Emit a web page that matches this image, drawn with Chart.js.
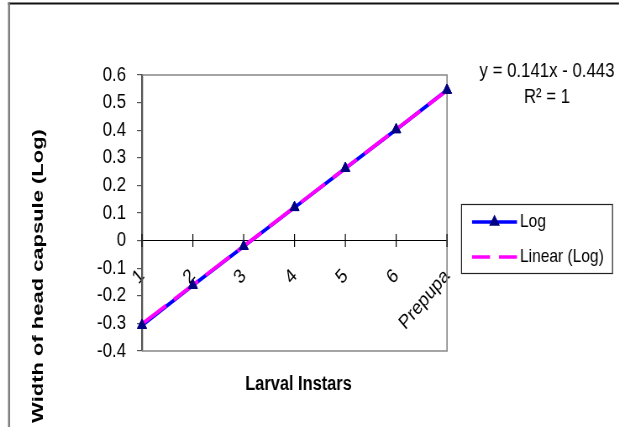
<!DOCTYPE html>
<html>
<head>
<meta charset="utf-8">
<script src="https://cdn.jsdelivr.net/npm/chart.js@4/dist/chart.umd.min.js"></script>
<style>
html, body { margin: 0; padding: 0; background: #fff; overflow: hidden; }
#wrap { position: relative; width: 619px; height: 427px; overflow: hidden; }
/* the original picture is squeezed sideways, so the canvas is drawn wider and squeezed back */
#myChart { transform: scaleX(0.84); transform-origin: 0 0; }
</style>
</head>
<body>
<div id="wrap"><canvas id="myChart" width="737" height="427"></canvas></div>
<script>
const instars = ['1', '2', '3', '4', '5', '6', 'Prepupa'];
const logWidth = [-0.307, -0.162, -0.021, 0.120, 0.262, 0.402, 0.545];
const linearLog = [-0.302, -0.161, -0.020, 0.121, 0.262, 0.403, 0.544];
const yTicks = [-0.4, -0.3, -0.2, -0.1, 0, 0.1, 0.2, 0.3, 0.4, 0.5, 0.6];
const yTickLabels = ['-0.4', '-0.3', '-0.2', '-0.1', '0', '0.1', '0.2', '0.3', '0.4', '0.5', '0.6'];
const equation = ['y = 0.141x - 0.443', 'R\u00B2 = 1'];
const xTitle = 'Larval Instars';
const yTitle = 'Width of head capsule (Log)';

const SX = 0.84;              // sideways squeeze of the canvas
const X = px => px / SX;      // screen x -> canvas x
const FONT = "'Liberation Sans', Arial, sans-serif";

// extra drawing: frame, plot box, crossing ticks, titles, equation, legend
const decor = {
    id: 'decor',
    beforeDatasetsDraw(chart) {
        const ctx = chart.ctx;
        const a = chart.chartArea;
        ctx.save();
        ctx.strokeStyle = '#888';
        ctx.lineWidth = 1.6;
        ctx.beginPath();
        ctx.moveTo(a.left, a.top);
        ctx.lineTo(a.right, a.top);
        ctx.lineTo(a.right, a.bottom);
        ctx.lineTo(a.left, a.bottom);
        ctx.stroke();

        // cross tick marks on the zero line
        const x = chart.scales.x;
        const y0 = chart.scales.y.getPixelForValue(0);
        ctx.strokeStyle = '#000';
        ctx.lineWidth = 1.2;
        ctx.beginPath();
        x.ticks.forEach((t, i) => {
            const px = x.getPixelForTick(i);
            ctx.moveTo(px, y0 - 6.5);
            ctx.lineTo(px, y0 + 6.5);
        });
        ctx.stroke();
        ctx.restore();
    },
    afterDatasetsDraw(chart) {
        // markers sit on top of the trend line
        chart.getDatasetMeta(0).data.forEach(pt => pt.draw(chart.ctx, chart.chartArea));
    },
    afterDraw(chart) {
        const ctx = chart.ctx;
        const a = chart.chartArea;
        ctx.save();

        // outer frame
        ctx.fillStyle = '#111';
        ctx.fillRect(X(8), 2.5, X(611), 2);
        ctx.fillStyle = '#777';
        ctx.fillRect(X(8), 2.5, X(2), 425);

        // axis titles
        ctx.fillStyle = '#000';
        ctx.textAlign = 'center';
        ctx.textBaseline = 'middle';
        ctx.font = 'bold 19.5px ' + FONT;
        ctx.fillText(xTitle, (a.left + a.right) / 2 + X(4), 385);

        ctx.save();
        ctx.translate(X(39), 276);
        ctx.rotate(-Math.PI / 2);
        ctx.scale(1.22, 1);
        ctx.font = 'bold 18px ' + FONT;
        ctx.fillText(yTitle, 0, 0);
        ctx.restore();

        // trendline equation
        ctx.font = '20px ' + FONT;
        ctx.fillText(equation[0], X(547), 71);
        ctx.fillText(equation[1], X(547), 97);

        // legend
        ctx.strokeStyle = '#222';
        ctx.lineWidth = 1.2;
        ctx.strokeRect(X(461.5), 204.5, X(151), 69);
        const ds = chart.data.datasets;
        const rows = [222, 257];
        ds.forEach((d, i) => {
            const ly = rows[i];
            ctx.save();
            ctx.strokeStyle = d.borderColor;
            ctx.lineWidth = 3.5;
            ctx.setLineDash(d.borderDash ? [X(18), X(9)] : []);
            ctx.beginPath();
            ctx.moveTo(X(472), ly);
            ctx.lineTo(X(517), ly);
            ctx.stroke();
            ctx.restore();
            if (d.pointRadius) {
                ctx.save();
                ctx.fillStyle = d.pointBackgroundColor;
                ctx.strokeStyle = d.pointBorderColor;
                Chart.helpers.drawPoint(ctx, {
                    pointStyle: d.pointStyle,
                    radius: d.pointRadius,
                    rotation: 0,
                    borderWidth: 1
                }, X(494.5), ly);
                ctx.restore();
            }
            ctx.fillStyle = '#000';
            ctx.textAlign = 'left';
            ctx.font = '18.5px ' + FONT;
            ctx.fillText(d.label, X(520), ly);
        });
        ctx.restore();
    }
};

Chart.register(decor);

const ctx = document.getElementById('myChart').getContext('2d');
const myChart = new Chart(ctx, {
    type: 'line',
    data: {
        labels: instars,
        datasets: [{
            label: 'Log',
            data: logWidth,
            borderColor: '#0000FF',
            borderWidth: 3.8,
            pointStyle: 'triangle',
            pointRadius: 6.2,
            pointBackgroundColor: '#000080',
            pointBorderColor: '#000080',
            pointBorderWidth: 1,
            tension: 0,
            clip: false,
            order: 2
        }, {
            label: 'Linear (Log)',
            data: linearLog,
            borderColor: '#FF00FF',
            borderWidth: 3.8,
            borderDash: [34, 11],
            pointRadius: 0,
            tension: 0,
            clip: false,
            order: 1
        }]
    },
    options: {
        responsive: false,
        animation: false,
        devicePixelRatio: 1,
        layout: { padding: { left: X(142) - 80, top: 75, right: 737 - X(447), bottom: 76 } },
        plugins: {
            legend: { display: false },
            tooltip: { enabled: false }
        },
        scales: {
            x: {
                type: 'category',
                position: { y: 0 },
                offset: false,
                grid: { drawOnChartArea: false, drawTicks: false },
                border: { color: '#000', width: 1 },
                ticks: {
                    autoSkip: false,
                    minRotation: 45,
                    maxRotation: 45,
                    padding: 24,
                    color: '#000',
                    font: { family: FONT, size: 20 }
                }
            },
            y: {
                min: -0.4,
                max: 0.6,
                afterBuildTicks: s => { s.ticks = yTicks.map(v => ({ value: v })); },
                afterFit: s => { s.width = 80; },
                grid: { drawOnChartArea: false, tickLength: 6, color: '#555', lineWidth: 1.2 },
                border: { color: '#555', width: 2.3 },
                ticks: {
                    padding: 13,
                    color: '#000',
                    font: { family: FONT, size: 20 },
                    callback: (v, i) => yTickLabels[i]
                }
            }
        }
    }
});
</script>
</body>
</html>
